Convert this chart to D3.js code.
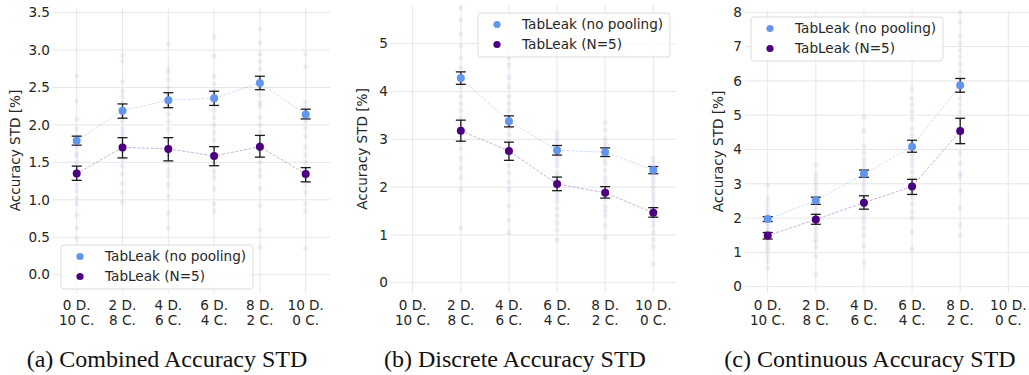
<!DOCTYPE html>
<html>
<head>
<meta charset="utf-8">
<script src="https://cdn.jsdelivr.net/npm/d3@7"></script>
<style>
  body { margin: 0; background: #fff; }
  svg { display: block; }
</style>
</head>
<body>
<div id="chart"></div>
<script>
// Data

const categories = ["0D10C", "2D8C", "4D6C", "6D4C", "8D2C", "10D0C"]
const labelTop = ["0 D.", "2 D.", "4 D.", "6 D.", "8 D.", "10 D."]
const labelBottom = ["10 C.", "8 C.", "6 C.", "4 C.", "2 C.", "0 C."]
const seriesNames = ["TabLeak (no pooling)", "TabLeak (N=5)"]

// (a) combined
const combinedNoPool = [1.79, 2.19, 2.33, 2.355, 2.56, 2.14]
const combinedNoPoolLo = [1.73, 2.09, 2.23, 2.26, 2.47, 2.08]
const combinedNoPoolHi = [1.85, 2.28, 2.43, 2.45, 2.65, 2.21]
const combinedN5 = [1.35, 1.70, 1.68, 1.585, 1.71, 1.345]
const combinedN5Lo = [1.26, 1.56, 1.52, 1.455, 1.57, 1.24]
const combinedN5Hi = [1.45, 1.83, 1.83, 1.71, 1.86, 1.43]
const combinedRaw = [
  [2.66, 2.32, 2.08, 1.95, 1.85, 1.78, 1.70, 1.62, 1.58, 1.50, 1.42, 1.30, 1.20, 1.12, 1.02, 0.95, 0.80, 0.62, 0.48],
  [2.93, 2.85, 2.58, 2.45, 2.38, 2.30, 2.20, 2.12, 2.05, 1.95, 1.88, 1.75, 1.65, 1.55, 1.45, 1.35, 1.22, 1.10, 0.97],
  [3.08, 2.75, 2.70, 2.60, 2.50, 2.42, 2.35, 2.25, 2.15, 2.05, 1.95, 1.80, 1.70, 1.60, 1.50, 1.40, 1.32, 1.20, 1.05, 0.82, 0.62],
  [3.18, 2.92, 2.65, 2.55, 2.45, 2.40, 2.30, 2.20, 2.10, 2.00, 1.90, 1.80, 1.70, 1.60, 1.50, 1.38, 1.30, 1.15, 0.95, 0.85],
  [3.28, 3.10, 2.95, 2.85, 2.75, 2.60, 2.50, 2.40, 2.30, 2.25, 2.10, 2.00, 1.90, 1.75, 1.65, 1.50, 1.40, 1.32, 1.15, 0.92, 0.60, 0.37],
  [2.95, 2.78, 2.30, 2.22, 2.15, 2.05, 1.95, 1.85, 1.70, 1.60, 1.50, 1.40, 1.30, 1.20, 1.10, 0.95, 0.85, 0.35]
]

// (b) discrete
const discreteNoPool = [null, 4.28, 3.38, 2.77, 2.73, 2.36]
const discreteNoPoolLo = [null, 4.15, 3.26, 2.67, 2.64, 2.28]
const discreteNoPoolHi = [null, 4.41, 3.49, 2.87, 2.82, 2.43]
const discreteN5 = [null, 3.18, 2.755, 2.065, 1.88, 1.465]
const discreteN5Lo = [null, 2.96, 2.56, 1.925, 1.77, 1.37]
const discreteN5Hi = [null, 3.40, 2.94, 2.21, 2.01, 1.57]
const discreteRaw = [
  [],
  [5.75, 5.5, 5.2, 4.95, 4.7, 4.5, 4.3, 4.1, 3.9, 3.75, 3.6, 3.45, 3.3, 3.1, 2.95, 2.8, 2.6, 2.4, 2.2, 1.95, 1.15],
  [4.7, 4.55, 4.3, 4.1, 3.9, 3.75, 3.6, 3.4, 3.25, 3.1, 2.95, 2.8, 2.6, 2.45, 2.3, 2.1, 1.95, 1.6, 1.3, 1.05],
  [3.15, 3.05, 2.95, 2.85, 2.75, 2.65, 2.55, 2.45, 2.3, 2.2, 2.1, 2.0, 1.9, 1.8, 1.7, 1.55, 1.4, 1.25, 1.1, 0.9],
  [3.35, 3.2, 3.0, 2.9, 2.8, 2.7, 2.6, 2.5, 2.35, 2.2, 2.1, 1.95, 1.85, 1.75, 1.6, 1.5, 1.4, 1.2, 0.95],
  [2.6, 2.5, 2.4, 2.3, 2.2, 2.1, 2.0, 1.9, 1.8, 1.7, 1.6, 1.5, 1.4, 1.3, 1.2, 1.05, 0.9, 0.75, 0.4]
]

// (c) continuous
const continuousNoPool = [1.97, 2.51, 3.29, 4.08, 5.87, null]
const continuousNoPoolLo = [1.90, 2.40, 3.19, 3.92, 5.67, null]
const continuousNoPoolHi = [2.04, 2.61, 3.40, 4.27, 6.07, null]
const continuousN5 = [1.49, 1.96, 2.45, 2.92, 4.54, null]
const continuousN5Lo = [1.39, 1.82, 2.26, 2.69, 4.17, null]
const continuousN5Hi = [1.58, 2.11, 2.65, 3.13, 4.91, null]
const continuousRaw = [
  [2.95, 2.6, 2.45, 2.3, 2.15, 2.05, 1.95, 1.85, 1.75, 1.65, 1.55, 1.45, 1.35, 1.25, 1.15, 1.05, 0.9, 0.75, 0.55],
  [3.55, 3.3, 3.15, 3.0, 2.85, 2.7, 2.55, 2.4, 2.25, 2.1, 1.95, 1.85, 1.7, 1.55, 1.4, 1.3, 1.15, 0.9, 0.35],
  [4.95, 4.55, 4.1, 3.9, 3.7, 3.55, 3.4, 3.25, 3.1, 2.95, 2.8, 2.65, 2.5, 2.35, 2.2, 2.05, 1.9, 1.7, 1.5, 1.2, 0.7],
  [5.75, 5.5, 5.3, 5.1, 4.9, 4.6, 4.4, 4.2, 4.0, 3.85, 3.7, 3.55, 3.35, 3.15, 3.0, 2.8, 2.6, 2.4, 2.2, 2.0, 1.6, 1.1],
  [8.0, 7.7, 7.3, 7.1, 6.9, 6.7, 6.5, 6.3, 6.1, 5.9, 5.7, 5.5, 5.3, 5.1, 4.9, 4.6, 4.4, 4.2, 3.9, 3.6, 3.3, 3.2, 2.8, 2.3, 1.8, 1.5],
  []
]

// Styles

const W = 1029
const H = 375
const blue = "#6495ed"
const purple = "#4b0082"
const gridColor = "#e6e6ea"
const tickFont = "13.6px"
const sans = "'DejaVu Sans', sans-serif"

// Panel layout
const panels = [
  {
    caption: "(a) Combined Accuracy STD", captionX: 167,
    x0: 53, x1: 330, first: 76.7, last: 305.7,
    top: 8, bottom: 293, domain: [-0.244, 3.561],
    ticks: [0, 0.5, 1, 1.5, 2, 2.5, 3, 3.5], fmt: d3.format(".1f"),
    ylabelX: 15, legend: { x: 61, y: 245 },
    mean: [combinedNoPool, combinedN5], lo: [combinedNoPoolLo, combinedN5Lo], hi: [combinedNoPoolHi, combinedN5Hi],
    raw: combinedRaw
  },
  {
    caption: "(b) Discrete Accuracy STD", captionX: 515,
    x0: 391, x1: 676, first: 412.7, last: 653.3,
    top: 5, bottom: 293, domain: [-0.215, 5.809],
    ticks: [0, 1, 2, 3, 4, 5], fmt: d3.format("d"),
    ylabelX: 362, legend: { x: 478, y: 13 },
    mean: [discreteNoPool, discreteN5], lo: [discreteNoPoolLo, discreteN5Lo], hi: [discreteNoPoolHi, discreteN5Hi],
    raw: discreteRaw
  },
  {
    caption: "(c) Continuous Accuracy STD", captionX: 870,
    x0: 745, x1: 1031, first: 767.7, last: 1008.3,
    top: 10, bottom: 293, domain: [-0.184, 8.067],
    ticks: [0, 1, 2, 3, 4, 5, 6, 7, 8], fmt: d3.format("d"),
    ylabelX: 718, legend: { x: 751, y: 17 },
    mean: [continuousNoPool, continuousN5], lo: [continuousNoPoolLo, continuousN5Lo], hi: [continuousNoPoolHi, continuousN5Hi],
    raw: continuousRaw
  }
]

const svg = d3.select("#chart").append("svg")
  .attr("width", W)
  .attr("height", H)

svg.append("rect").attr("width", W).attr("height", H).attr("fill", "#fff")

panels.forEach(p => {
  const x = d3.scalePoint().domain(categories).range([p.first, p.last])
  const y = d3.scaleLinear().domain(p.domain).range([p.bottom, p.top])
  const g = svg.append("g")

  // gridlines
  g.selectAll(".hgrid")
    .data(p.ticks)
    .join("line")
    .attr("x1", p.x0).attr("x2", p.x1)
    .attr("y1", d => y(d)).attr("y2", d => y(d))
    .attr("stroke", gridColor)
    .attr("stroke-width", 1)

  g.selectAll(".vgrid")
    .data(categories)
    .join("line")
    .attr("x1", d => x(d)).attr("x2", d => x(d))
    .attr("y1", p.top).attr("y2", p.bottom)
    .attr("stroke", gridColor)
    .attr("stroke-width", 1)

  // y ticks
  g.selectAll(".ytick")
    .data(p.ticks)
    .join("text")
    .attr("x", p.x0 - 3)
    .attr("y", d => y(d))
    .attr("dy", "0.35em")
    .attr("text-anchor", "end")
    .style("font-family", sans)
    .style("font-size", tickFont)
    .attr("fill", "#262626")
    .text(d => p.fmt(d))

  // x ticks (two lines)
  const xt = g.selectAll(".xtick")
    .data(categories)
    .join("text")
    .attr("text-anchor", "middle")
    .style("font-family", sans)
    .style("font-size", tickFont)
    .attr("fill", "#262626")
  xt.append("tspan").attr("x", d => x(d)).attr("y", 310).text((d, i) => labelTop[i])
  xt.append("tspan").attr("x", d => x(d)).attr("y", 325).text((d, i) => labelBottom[i])

  // y label
  g.append("text")
    .attr("transform", `translate(${p.ylabelX}, ${(p.top + p.bottom) / 2}) rotate(-90)`)
    .attr("dy", "0.35em")
    .attr("text-anchor", "middle")
    .style("font-family", sans)
    .style("font-size", tickFont)
    .attr("fill", "#262626")
    .text("Accuracy STD [%]")

  // raw points
  const raw = []
  p.raw.forEach((vals, i) => vals.forEach(v => raw.push({ c: categories[i], v: v })))
  g.selectAll(".raw")
    .data(raw)
    .join("circle")
    .attr("cx", d => x(d.c))
    .attr("cy", d => y(d.v))
    .attr("r", 2.6)
    .attr("fill", "#5a4fb0")
    .attr("fill-opacity", 0.08)

  const colors = [blue, purple]

  p.mean.forEach((vals, s) => {
    const pts = categories.map((c, i) => ({ c: c, v: vals[i], lo: p.lo[s][i], hi: p.hi[s][i] }))
      .filter(d => d.v !== null)

    // connecting line
    g.append("path")
      .datum(pts)
      .attr("fill", "none")
      .attr("stroke", colors[s])
      .attr("stroke-opacity", 0.3)
      .attr("stroke-width", 1)
      .attr("stroke-dasharray", "3,1.5")
      .attr("d", d3.line().x(d => x(d.c)).y(d => y(d.v)))

    // error bars
    const eb = g.append("g").attr("stroke", "#1a1a1a").attr("stroke-width", 1.3)
    eb.selectAll(".stem").data(pts).join("line")
      .attr("x1", d => x(d.c)).attr("x2", d => x(d.c))
      .attr("y1", d => y(d.lo)).attr("y2", d => y(d.hi))
    eb.selectAll(".capLo").data(pts).join("line")
      .attr("x1", d => x(d.c) - 5).attr("x2", d => x(d.c) + 5)
      .attr("y1", d => y(d.lo)).attr("y2", d => y(d.lo))
    eb.selectAll(".capHi").data(pts).join("line")
      .attr("x1", d => x(d.c) - 5).attr("x2", d => x(d.c) + 5)
      .attr("y1", d => y(d.hi)).attr("y2", d => y(d.hi))

    // markers
    g.selectAll(".m" + s).data(pts).join("circle")
      .attr("cx", d => x(d.c))
      .attr("cy", d => y(d.v))
      .attr("r", 4)
      .attr("fill", colors[s])
  })

  // legend
  const lg = g.append("g").attr("transform", `translate(${p.legend.x}, ${p.legend.y})`)
  lg.append("rect")
    .attr("width", 192).attr("height", 44)
    .attr("rx", 3)
    .attr("fill", "#fff").attr("fill-opacity", 0.8)
    .attr("stroke", "#dcdcdc")
  seriesNames.forEach((name, s) => {
    lg.append("circle").attr("cx", 19).attr("cy", 11.5 + 20 * s).attr("r", 3.6).attr("fill", colors[s])
    lg.append("text")
      .attr("x", 44).attr("y", 11.5 + 20 * s).attr("dy", "0.35em")
      .style("font-family", sans).style("font-size", tickFont)
      .attr("fill", "#262626")
      .text(name)
  })

  // caption
  svg.append("text")
    .attr("x", p.captionX).attr("y", 367)
    .attr("text-anchor", "middle")
    .style("font-family", "'Liberation Serif', 'Times New Roman', serif")
    .style("font-size", "24px")
    .attr("fill", "#111")
    .text(p.caption)
})
</script>
</body>
</html>
